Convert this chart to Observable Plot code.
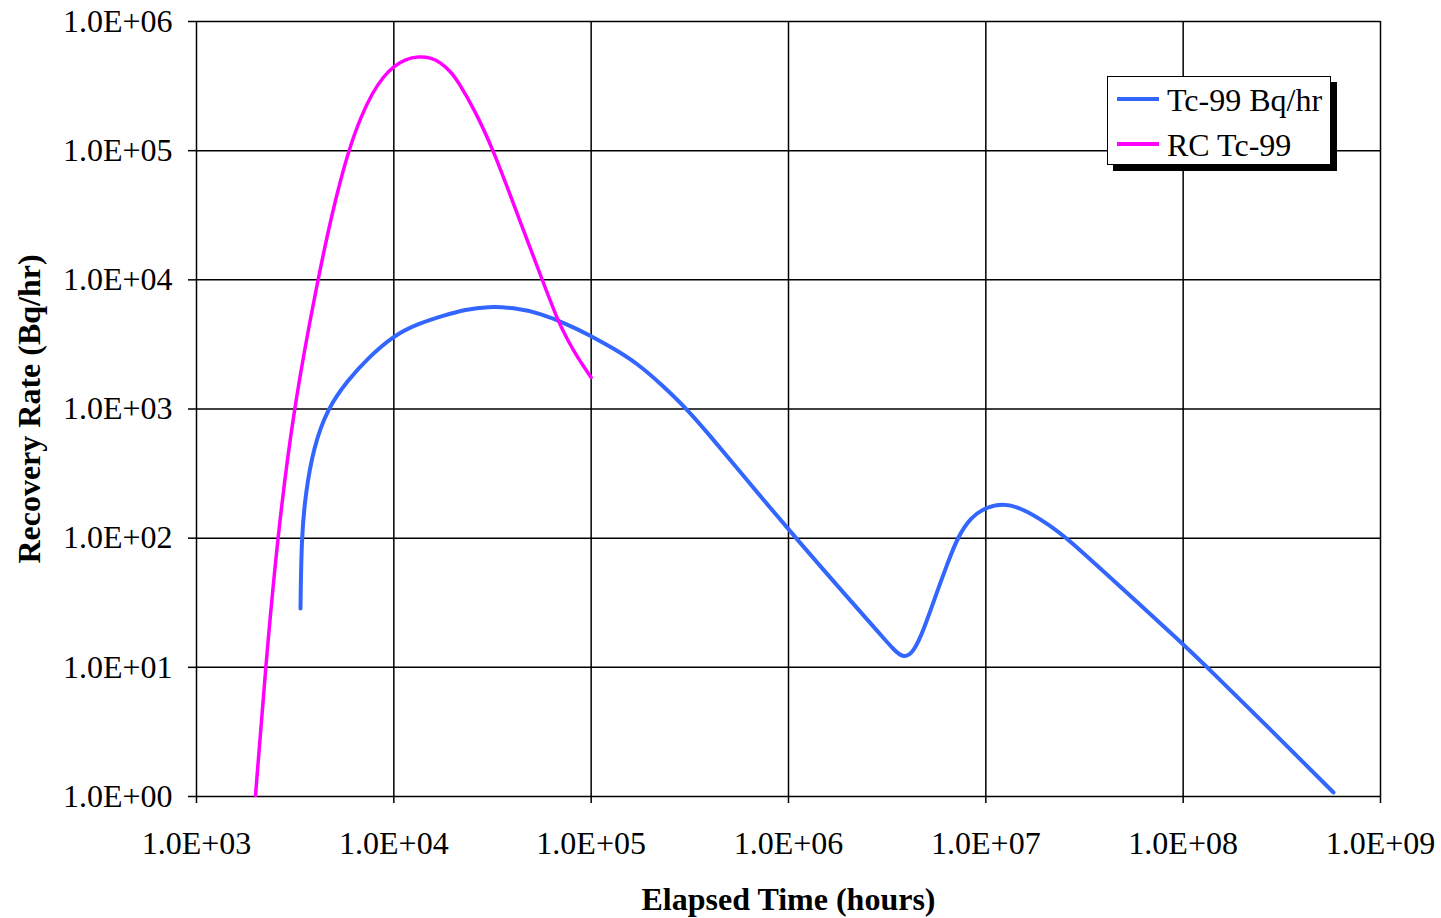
<!DOCTYPE html>
<html>
<head>
<meta charset="utf-8">
<script src="https://cdn.jsdelivr.net/npm/d3@7"></script>
<script src="https://cdn.jsdelivr.net/npm/@observablehq/plot@0.6"></script>
<style>
  html, body { margin: 0; padding: 0; background: #fff; }
  #wrap { position: relative; width: 1441px; height: 918px; overflow: hidden; }
  #legend {
    position: absolute; left: 1107px; top: 76px; width: 224px; height: 89px;
    border: 1.5px solid #000; background: #fff; box-shadow: 6px 6px 0 #000;
    font-family: "Liberation Serif", "Times New Roman", serif; font-size: 32px; line-height: 32px;
    box-sizing: border-box;
  }
  .sw { position: absolute; left: 9px; width: 42px; height: 4px; }
  .lt { position: absolute; left: 59px; white-space: nowrap; }
</style>
</head>
<body>
<div id="wrap">
  <div id="chart"></div>
  <div id="legend">
    <div class="sw" style="top:20px;background:#3366ff"></div>
    <div class="lt" style="top:7px">Tc-99 Bq/hr</div>
    <div class="sw" style="top:65px;background:#ff00ff"></div>
    <div class="lt" style="top:52px">RC Tc-99</div>
  </div>
</div>
<script>
// Tick values
const xTicks = [1e3, 1e4, 1e5, 1e6, 1e7, 1e8, 1e9];
const yTicks = [1e0, 1e1, 1e2, 1e3, 1e4, 1e5, 1e6];

// Series: Tc-99 Bq/hr (blue)
const tcTime = [3365, 3405, 3568, 3916, 4611, 5824, 7355, 9962, 13340, 17850, 23080, 29830, 40400, 55370, 74110,
  99220, 129800, 171700, 227200, 304200, 407200, 551500, 773600, 1.085e6, 1.991e6, 2.926e6, 3.405e6, 3.826e6,
  4.299e6, 4.833e6, 5.690e6, 6.393e6, 7.184e6, 8.364e6, 9.961e6, 1.215e7, 1.499e7, 2.053e7, 2.594e7, 4.436e7,
  9.92e7, 1.328e8, 2.771e8, 5.778e8];
const tcRate = [28.54, 101.2, 221.7, 503.4, 1009, 1662, 2460, 3707, 4591, 5294, 5893, 6217, 6107, 5487, 4591,
  3707, 2940, 2250, 1548, 1009, 601.7, 346.2, 185.5, 101.2, 34.72, 17.96, 13.74, 11.71,
  13.02, 19.28, 39.33, 63.66, 101.2, 144.5, 172.8, 185.5, 172.8, 129.9, 99.4, 47.0,
  15.3, 9.97, 3.301, 1.074];

// Series: RC Tc-99 (magenta)
const rcTime = [1991, 2238, 2573, 3101, 4104, 4947, 5892, 6778, 7797, 8861, 9962, 11460, 13340, 15340, 17240,
  19380, 21020, 25940, 32000, 42340, 56680, 68310, 76760, 85270, 100000];
const rcRate = [1.018, 9.970, 101.2, 1009, 9881, 36960, 100300, 180700, 282000, 375200, 448400, 512400, 535800, 526300, 481500,
  410100, 349400, 201000, 100300, 32050, 9881, 4674, 3331, 2504, 1753];

const tc = tcTime.map((t, i) => ({t, v: tcRate[i]}));
const rc = rcTime.map((t, i) => ({t, v: rcRate[i]}));

const fmt = d => "1.0E+" + String(Math.round(Math.log10(d))).padStart(2, "0");

const chart = Plot.plot({
  width: 1441,
  height: 918,
  marginLeft: 196,
  marginRight: 61,
  marginTop: 21,
  marginBottom: 122,
  style: {fontFamily: "'Liberation Serif', 'Times New Roman', serif", fontSize: "32px", color: "#000", background: "#fff", overflow: "visible"},
  x: {type: "log", domain: [1e3, 1e9]},
  y: {type: "log", domain: [1, 1e6]},
  marks: [
    Plot.ruleX(xTicks, {stroke: "#000", strokeWidth: 1.5}),
    Plot.ruleY(yTicks, {stroke: "#000", strokeWidth: 1.5}),
    Plot.axisX({ticks: xTicks, tickFormat: fmt, tickSize: 7, tickPadding: 28, label: null, stroke: "#000", strokeWidth: 1.5}),
    Plot.axisY({ticks: yTicks, tickFormat: fmt, tickSize: 8, tickPadding: 16, label: null, stroke: "#000", strokeWidth: 1.5}),
    Plot.line(tc, {x: "t", y: "v", stroke: "#3366ff", strokeWidth: 4, curve: "basis"}),
    Plot.line(rc, {x: "t", y: "v", stroke: "#ff00ff", strokeWidth: 3.5, curve: "basis"}),
    Plot.text(["Elapsed Time (hours)"], {frameAnchor: "bottom", lineAnchor: "bottom", textAnchor: "middle", dy: 113, fontWeight: "bold", fontSize: 32}),
    Plot.text(["Recovery Rate (Bq/hr)"], {frameAnchor: "left", rotate: -90, lineAnchor: "bottom", textAnchor: "middle", dx: -157, fontWeight: "bold", fontSize: 32})
  ]
});
document.getElementById("chart").appendChild(chart);
</script>
</body>
</html>
